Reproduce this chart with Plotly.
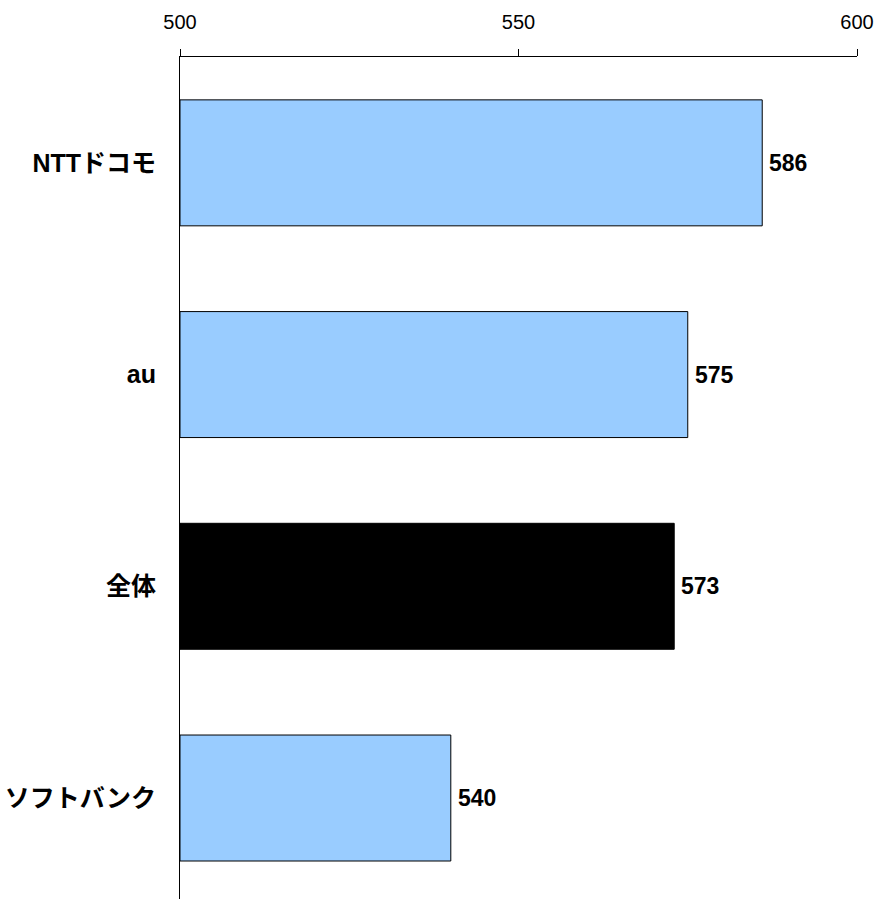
import plotly.graph_objects as go

categories = ["NTTドコモ", "au", "全体", "ソフトバンク"]
values = [586, 575, 573, 540]
colors = ["#99CCFF", "#99CCFF", "#000000", "#99CCFF"]
x_ticks = [500, 550, 600]

y_pos = list(range(len(categories)))

fig = go.Figure(go.Bar(
    y=y_pos,
    x=[v - 500 for v in values],
    base=500,
    orientation="h",
    width=0.595,
    marker=dict(color=colors, line=dict(color="#000000", width=1)),
    hoverinfo="skip",
))

for yi, v in zip(y_pos, values):
    fig.add_annotation(
        x=v, y=yi, xref="x", yref="y",
        text="<b>%d</b>" % v, showarrow=False,
        xanchor="left", yanchor="middle", xshift=5,
        font=dict(family="Liberation Sans, Arial, sans-serif", size=23, color="#000000"),
    )

fig.update_layout(
    width=879, height=899,
    margin=dict(l=180, r=22, t=57, b=0),
    paper_bgcolor="white", plot_bgcolor="white",
    showlegend=False,
    font=dict(family="Liberation Sans, Noto Sans CJK JP, sans-serif", color="#000000"),
    xaxis=dict(
        side="top", range=[500, 600], tickvals=x_ticks,
        ticks="outside", ticklen=7, tickcolor="#000000", tickwidth=1,
        showline=True, linecolor="#000000", linewidth=1,
        showgrid=False, zeroline=False,
        tickfont=dict(size=20, family="Liberation Sans, Arial, sans-serif"),
        ticklabelstandoff=12,
    ),
    yaxis=dict(
        range=[3.477, -0.5],
        tickvals=y_pos,
        ticktext=["<b>%s</b>" % c for c in categories],
        ticks="", showline=True, linecolor="#000000", linewidth=1,
        showgrid=False, zeroline=False,
        tickfont=dict(size=25, family="Liberation Sans, Noto Sans CJK JP, sans-serif"),
        ticklabelstandoff=18,
    ),
)

fig.write_html("out.html")
